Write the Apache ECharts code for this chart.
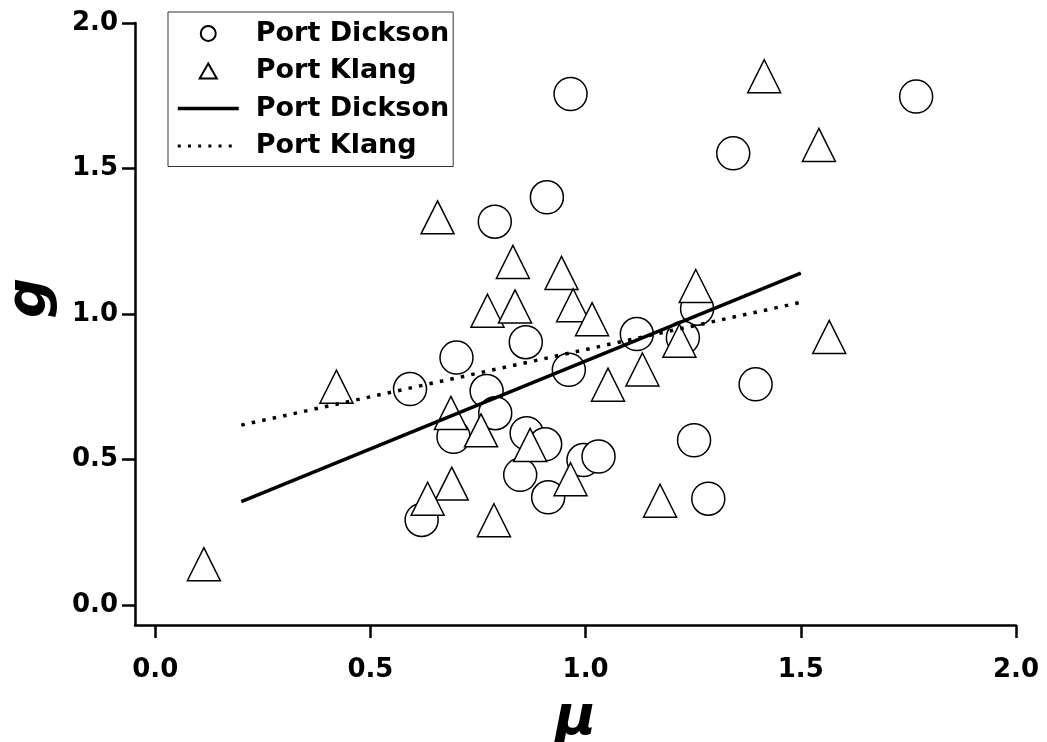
<!DOCTYPE html>
<html>
<head>
<meta charset="utf-8">
<script src="https://cdn.jsdelivr.net/npm/echarts@6/dist/echarts.min.js"></script>
<style>
  html, body { margin: 0; background: #fff; }
  #chart { width: 1047px; height: 742px; }
</style>
</head>
<body>
<div id="chart"></div>
<script>
// mu, g pairs
const portDickson = [
  [0.965, 1.756], [1.768, 1.747], [1.343, 1.552], [0.910, 1.401], [0.789, 1.317],
  [1.259, 1.018], [1.119, 0.931], [1.226, 0.918], [0.861, 0.903], [0.700, 0.850],
  [0.961, 0.808], [1.395, 0.758], [0.592, 0.742], [0.770, 0.735], [0.790, 0.659],
  [0.693, 0.578], [0.863, 0.590], [0.906, 0.552], [1.252, 0.566], [0.995, 0.498],
  [1.030, 0.510], [0.848, 0.447], [0.913, 0.370], [1.285, 0.365], [0.619, 0.292]
];
const portKlang = [
  [1.415, 1.817], [1.542, 1.581], [0.656, 1.332], [0.831, 1.179], [0.944, 1.141],
  [1.256, 1.096], [0.772, 1.011], [0.836, 1.026], [0.971, 1.030], [1.015, 0.982],
  [1.218, 0.908], [1.566, 0.921], [1.132, 0.809], [1.052, 0.757], [0.421, 0.750],
  [0.687, 0.660], [0.757, 0.600], [0.871, 0.550], [0.965, 0.432], [0.689, 0.417],
  [0.633, 0.365], [0.787, 0.291], [1.173, 0.358], [0.113, 0.140]
];
// regression lines (end points)
const fitDickson = [[0.2, 0.355], [1.5, 1.14]];
const fitKlang = [[0.2, 0.618], [1.5, 1.04]];

const xTicks = [0, 0.5, 1, 1.5, 2];
const yTicks = [0, 0.5, 1, 1.5, 2];

const font = "'DejaVu Sans', sans-serif";
const chart = echarts.init(document.getElementById('chart'));

const axisCommon = {
  type: 'value',
  splitLine: { show: false },
  axisLine: { show: true, onZero: false, lineStyle: { color: '#000', width: 2.5 } },
  axisTick: { show: true, inside: false, length: 13, lineStyle: { color: '#000', width: 2.5 } },
  nameLocation: 'middle'
};

const option = {
  animation: false,
  backgroundColor: '#fff',
  grid: { left: 135, right: 31, top: 23, bottom: 117, containLabel: false, outerBoundsMode: 'none' },
  legend: {
    orient: 'vertical',
    left: 168,
    top: 12,
    padding: [8, 4, 7, 8],
    itemWidth: 61,
    itemHeight: 15,
    itemGap: 10.5,
    borderColor: '#333',
    borderWidth: 1,
    backgroundColor: '#fff',
    data: [
      'Port Dickson',
      { name: 'Port Klang', icon: 'path://M8,0 L16,14 L0,14 Z' },
      { name: 'Port Dickson fit', itemStyle: { opacity: 0 }, lineStyle: { width: 3.5, color: '#000' } },
      { name: 'Port Klang fit', itemStyle: { opacity: 0 }, lineStyle: { width: 3, color: '#000', type: [3, 7.2] } }
    ],
    formatter: name => name.replace(' fit', ''),
    textStyle: {
      color: '#000', fontFamily: font, fontWeight: 'bold', fontSize: 27, lineHeight: 26,
      padding: [0, 0, 0, 12]
    }
  },
  xAxis: Object.assign({}, axisCommon, {
    min: -0.047,
    max: 2.0,
    name: 'μ',
    nameGap: 66,
    nameTextStyle: { color: '#000', fontFamily: font, fontWeight: 'bold', fontStyle: 'italic', fontSize: 56 },
    axisTick: Object.assign({}, axisCommon.axisTick, { customValues: xTicks }),
    axisLabel: {
      customValues: xTicks,
      formatter: v => v.toFixed(1),
      margin: 32,
      color: '#000', fontFamily: font, fontWeight: 'bold', fontSize: 26
    }
  }),
  yAxis: Object.assign({}, axisCommon, {
    min: -0.069,
    max: 2.0,
    name: 'g',
    nameRotate: 90,
    nameGap: 77,
    nameTextStyle: { color: '#000', fontFamily: font, fontWeight: 'bold', fontStyle: 'italic', fontSize: 56, padding: [0, 0, 0, 52] },
    axisTick: Object.assign({}, axisCommon.axisTick, { customValues: yTicks }),
    axisLabel: {
      customValues: yTicks,
      formatter: v => v.toFixed(1),
      margin: 17,
      color: '#000', fontFamily: font, fontWeight: 'bold', fontSize: 26
    }
  }),
  series: [
    {
      name: 'Port Dickson',
      type: 'scatter',
      symbol: 'circle',
      symbolSize: 33,
      data: portDickson,
      itemStyle: { color: '#fff', borderColor: '#000', borderWidth: 1.5, opacity: 1 }
    },
    {
      name: 'Port Klang',
      type: 'scatter',
      symbol: 'triangle',
      symbolSize: [33, 33],
      data: portKlang,
      itemStyle: { color: '#fff', borderColor: '#000', borderWidth: 1.5, opacity: 1 }
    },
    {
      name: 'Port Dickson fit',
      type: 'line',
      symbol: 'none',
      data: fitDickson,
      lineStyle: { color: '#000', width: 3.5 },
      itemStyle: { color: '#000' }
    },
    {
      name: 'Port Klang fit',
      type: 'line',
      symbol: 'none',
      data: fitKlang,
      lineStyle: { color: '#000', width: 3.5, type: [3.5, 7.2] },
      itemStyle: { color: '#000' }
    }
  ]
};

chart.setOption(option);
</script>
</body>
</html>
